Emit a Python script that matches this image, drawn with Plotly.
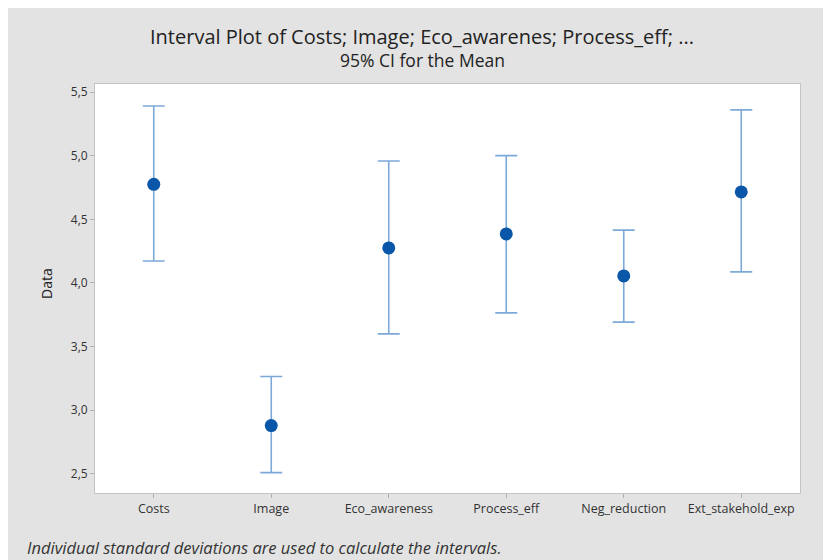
import plotly.graph_objects as go

categories = ["Costs", "Image", "Eco_awareness", "Process_eff", "Neg_reduction", "Ext_stakehold_exp"]
means = [4.775, 2.88, 4.275, 4.385, 4.055, 4.715]
upper = [5.39, 3.265, 4.958, 5.0, 4.415, 5.36]
lower = [4.173, 2.51, 3.60, 3.765, 3.692, 4.087]
y_ticks = [2.5, 3.0, 3.5, 4.0, 4.5, 5.0, 5.5]

err_plus = [u - m for u, m in zip(upper, means)]
err_minus = [m - l for m, l in zip(means, lower)]

W, H = 831, 560
L, R, T, B = 87, 792, 76, 485
pw, ph = R - L, B - T

def px(x):
    return (x - L) / pw

def py(y):
    return (B - y) / ph

FONT = "Open Sans"

fig = go.Figure()
fig.add_trace(go.Scatter(
    x=list(range(len(categories))),
    y=means,
    mode="markers",
    marker=dict(color="#0a56a8", size=13),
    error_y=dict(type="data", symmetric=False, array=err_plus, arrayminus=err_minus,
                 color="#7da9d9", thickness=1.6, width=11),
    showlegend=False,
))

fig.update_layout(
    width=W, height=H,
    margin=dict(l=L, r=W - R, t=T, b=H - B),
    paper_bgcolor="#e3e3e3",
    plot_bgcolor="white",
    separators=",.",
    font=dict(family=FONT, color="#333333"),
    xaxis=dict(
        range=[-0.5, len(categories) - 0.5],
        tickmode="array", tickvals=list(range(len(categories))), ticktext=categories,
        ticks="outside", ticklen=4, tickcolor="#b0b0b0",
        showline=True, mirror=True, linecolor="#c4c4c4", linewidth=1,
        showgrid=False, zeroline=False,
        tickfont=dict(size=12.5, color="#333333", family=FONT),
    ),
    yaxis=dict(
        range=[2.35, 5.563],
        tickmode="array", tickvals=y_ticks, tickformat=".1f",
        ticks="outside", ticklen=4, tickcolor="#b0b0b0",
        showline=True, mirror=True, linecolor="#c4c4c4", linewidth=1,
        showgrid=False, zeroline=False,
        tickfont=dict(size=12, color="#333333", family=FONT),
    ),
    annotations=[
        dict(text="Interval Plot of Costs; Image; Eco_awarenes; Process_eff; ...",
             xref="paper", yref="paper", x=px(414), y=py(29), showarrow=False,
             xanchor="center", yanchor="middle",
             font=dict(size=20, color="#222222", family=FONT)),
        dict(text="95% CI for the Mean",
             xref="paper", yref="paper", x=px(414), y=py(52), showarrow=False,
             xanchor="center", yanchor="middle",
             font=dict(size=17.5, color="#222222", family=FONT)),
        dict(text="Data", textangle=-90,
             xref="paper", yref="paper", x=px(38), y=py(276), showarrow=False,
             xanchor="center", yanchor="middle",
             font=dict(size=14, color="#222222", family=FONT)),
        dict(text="<i>Individual standard deviations are used to calculate the intervals.</i>",
             xref="paper", yref="paper", x=px(17), y=py(539), showarrow=False,
             xanchor="left", yanchor="middle",
             font=dict(size=16.5, color="#333333", family=FONT)),
    ],
)

fig.write_html("out.html")
